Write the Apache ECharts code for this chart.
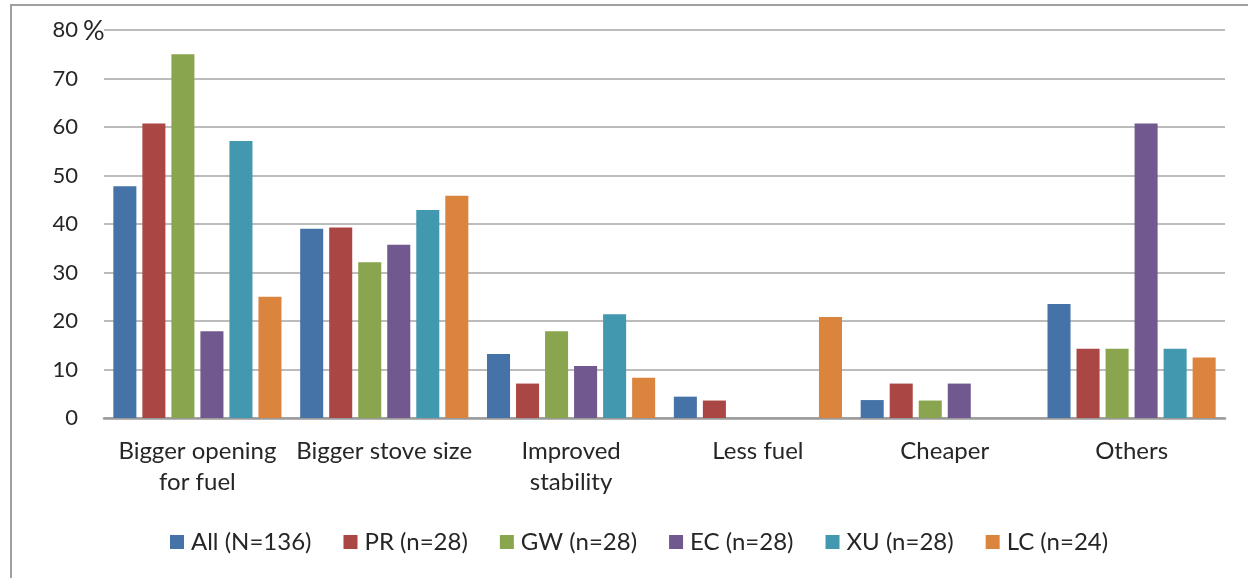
<!DOCTYPE html>
<html>
<head>
<meta charset="utf-8">
<script src="https://cdn.jsdelivr.net/npm/echarts@6/dist/echarts.min.js"></script>
<style>html,body{margin:0;padding:0;background:#fff}#c{width:1248px;height:578px}</style>
</head>
<body>
<div id="c"></div>
<script>
const categories = ['Bigger opening\nfor fuel', 'Bigger stove size', 'Improved\nstability', 'Less fuel', 'Cheaper', 'Others'];
const seriesNames = ['All (N=136)', 'PR (n=28)', 'GW (n=28)', 'EC (n=28)', 'XU (n=28)', 'LC (n=24)'];
const allVals = [47.8, 39.0, 13.2, 4.4, 3.7, 23.5];
const prVals  = [60.7, 39.3, 7.1, 3.6, 7.1, 14.3];
const gwVals  = [75.0, 32.1, 17.9, 0, 3.6, 14.3];
const ecVals  = [17.9, 35.7, 10.7, 0, 7.1, 60.7];
const xuVals  = [57.1, 42.9, 21.4, 0, 0, 14.3];
const lcVals  = [25.0, 45.8, 8.3, 20.8, 0, 12.5];
const yTicks = [0, 10, 20, 30, 40, 50, 60, 70, 80];
const colors = ['#4572A7', '#AA4643', '#89A54E', '#71588F', '#4198AF', '#DB843D'];
const values = [allVals, prVals, gwVals, ecVals, xuVals, lcVals];

const FONT = 'Lato';
const TXT = '#262626';
const chart = echarts.init(document.getElementById('c'), null, {renderer: 'canvas'});
chart.setOption({
  animation: false,
  backgroundColor: '#fff',
  color: colors,
  textStyle: {fontFamily: FONT},
  grid: {left: 104, right: 23, top: 30, bottom: 160, containLabel: false},
  legend: {
    top: 525, left: 165,
    itemWidth: 14, itemHeight: 14, itemGap: 32,
    icon: 'rect',
    textStyle: {fontFamily: FONT, fontSize: 24, color: TXT, padding: [0, 0, 0, 2]},
    data: seriesNames
  },
  xAxis: {
    type: 'category',
    data: categories,
    axisLine: {lineStyle: {color: '#9a9a9a', width: 2.5}},
    axisTick: {show: false},
    axisLabel: {interval: 0, margin: 18, fontFamily: FONT, fontSize: 24, color: TXT, lineHeight: 31, align: 'center'}
  },
  yAxis: {
    type: 'value', min: 0, max: yTicks[yTicks.length - 1], interval: 10,
    axisLine: {show: false}, axisTick: {show: false},
    splitLine: {lineStyle: {color: '#a6a6a6', width: 1.5}},
    axisLabel: {margin: 26, fontFamily: FONT, fontSize: 22, color: TXT}
  },
  graphic: [
    {type: 'rect', z: -1, shape: {x: 11, y: 5, width: 1400, height: 800}, style: {fill: 'none', stroke: '#a0a0a0', lineWidth: 2}},
    {type: 'text', x: 83, y: 31, style: {text: '%', fontFamily: FONT, fontSize: 27, fill: TXT, verticalAlign: 'middle', align: 'left'}}
  ],
  series: seriesNames.map((n, i) => ({
    name: n, type: 'bar', data: values[i],
    barGap: '26%', barCategoryGap: '10%',
    itemStyle: {color: colors[i]}
  }))
});
</script>
</body>
</html>
